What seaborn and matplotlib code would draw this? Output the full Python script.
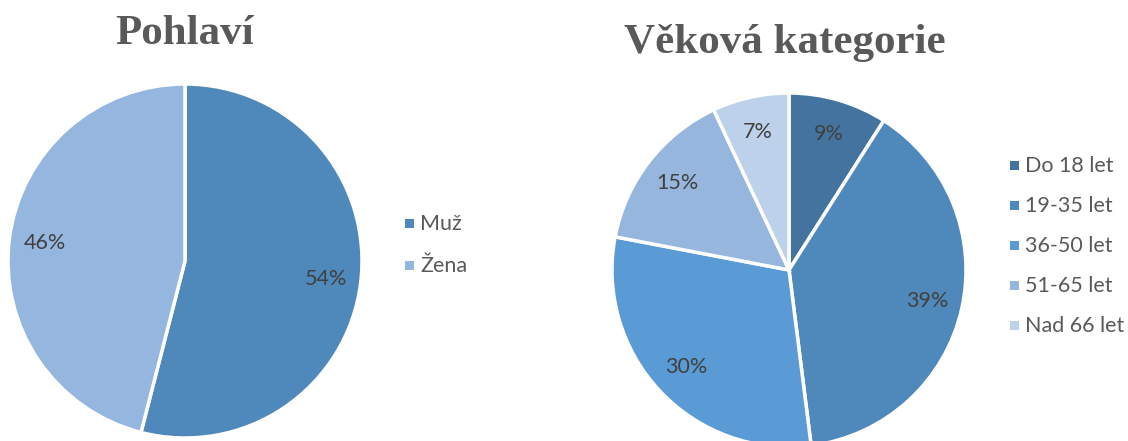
import matplotlib
matplotlib.use("Agg")
import matplotlib.pyplot as plt
import seaborn as sns

sns.set_theme(style="white")
plt.rcParams['font.family'] = ['Lato', 'DejaVu Sans']

# Data
gender_labels = ["Muž", "Žena"]
gender_values = [54, 46]
gender_colors = ["#4f88bb", "#95b6de"]

age_labels = ["Do 18 let", "19-35 let", "36-50 let", "51-65 let", "Nad 66 let"]
age_values = [9, 39, 30, 15, 7]
age_colors = ["#44739f", "#4f88bb", "#5b9bd5", "#97b6dd", "#bdd1ea"]

W, H = 1128, 441
fig = plt.figure(figsize=(W / 100, H / 100), dpi=100)
fig.patch.set_facecolor("white")

def px_axes(cx, cy, r):
    return fig.add_axes([(cx - r) / W, (H - cy - r) / H, 2 * r / W, 2 * r / H])

def draw_pie(ax, values, colors):
    wedges, texts, autotexts = ax.pie(
        values, colors=colors, startangle=90, counterclock=False,
        autopct=lambda p: f"{p:.0f}%", pctdistance=0.8,
        wedgeprops=dict(edgecolor="white", linewidth=2.5),
        textprops=dict(color="#404040", fontsize=15.5),
    )
    ax.set_xlim(-1.0, 1.0)
    ax.set_ylim(-1.0, 1.0)
    ax.set_aspect("equal")
    ax.axis("off")
    return wedges

ax1 = px_axes(185, 261, 177)
draw_pie(ax1, gender_values, gender_colors)
ax2 = px_axes(789, 270, 177)
draw_pie(ax2, age_values, age_colors)

title_kw = dict(family=["Liberation Serif", "DejaVu Serif"], fontweight="bold",
                color="#595959", fontsize=31, ha="center", va="center")
fig.text(185 / W, 1 - 34 / H, "Pohlaví", **title_kw)
fig.text(785 / W, 1 - 43 / H, "Věková kategorie", **title_kw)

def legend(labels, colors, x, y0, dy):
    for i, (lab, col) in enumerate(zip(labels, colors)):
        y = y0 + i * dy
        fig.patches.append(plt.Rectangle((x / W, 1 - (y + 4) / H), 9 / W, 9 / H,
                                         transform=fig.transFigure, facecolor=col,
                                         edgecolor="none"))
        fig.text((x + 15) / W, 1 - y / H, lab, color="#595959", fontsize=15.5,
                 ha="left", va="center")

legend(gender_labels, gender_colors, 405, 224, 42)
legend(age_labels, age_colors, 1010, 166, 40)

fig.savefig("out.png", dpi=100, facecolor="white")
